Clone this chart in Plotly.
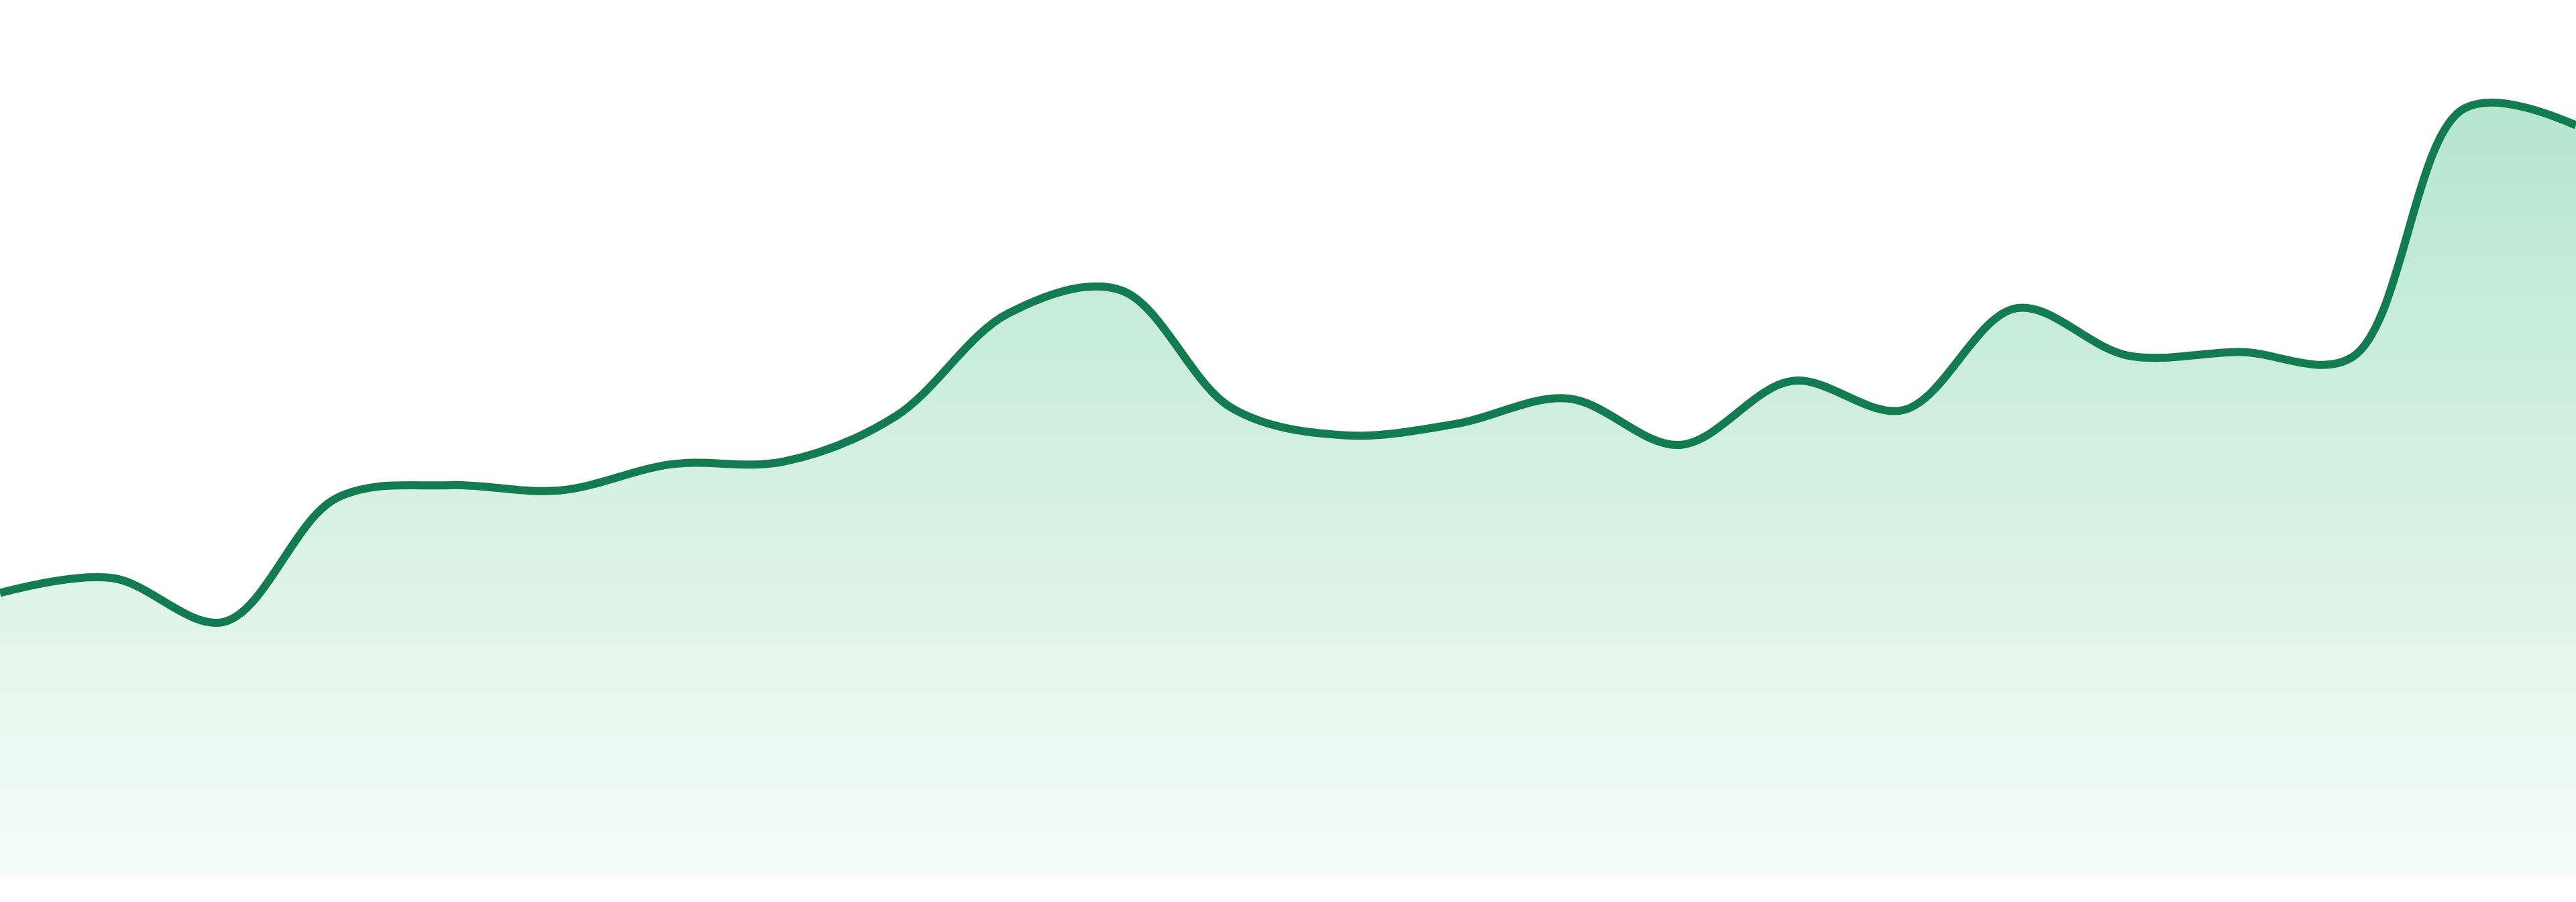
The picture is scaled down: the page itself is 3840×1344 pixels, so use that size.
import plotly.graph_objects as go

# one point per period (arbitrary units, 0 = bottom of the fill)
periods = list(range(24))
values = [32.3, 34.0, 29.0, 43.1, 44.6, 44.0, 47.0, 47.3, 52.5, 64.2, 66.9, 53.4,
          50.3, 51.6, 54.5, 49.2, 56.5, 53.2, 64.8, 59.4, 59.8, 59.2, 87.6, 85.7]

line_color = '#127b51'
fill_top = '#b5e5d0'
fill_bottom = '#f6fbf9'

fig = go.Figure()
fig.add_trace(go.Scatter(
    x=periods,
    y=values,
    mode='lines',
    line=dict(color=line_color, width=12, shape='spline', smoothing=1.0),
    fill='tozeroy',
    fillgradient=dict(type='vertical', colorscale=[[0, fill_bottom], [1, fill_top]]),
    hoverinfo='skip',
))

fig.update_layout(
    width=3840,
    height=1344,
    margin=dict(l=0, r=0, t=0, b=39),
    paper_bgcolor='white',
    plot_bgcolor='white',
    showlegend=False,
    xaxis=dict(visible=False, range=[0, 23], autorange=False, fixedrange=True),
    yaxis=dict(visible=False, range=[0, 100], autorange=False, fixedrange=True),
)

fig.write_html("out.html", config={'displayModeBar': False, 'staticPlot': True},
               post_script="document.body.style.margin='0';")
